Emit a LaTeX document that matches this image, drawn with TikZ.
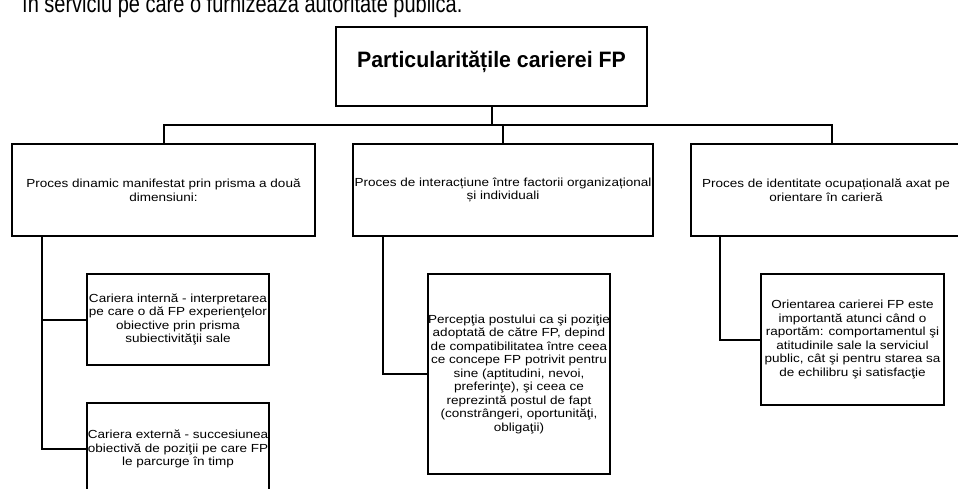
\documentclass[tikz,border=0pt]{standalone}
\usepackage{fontspec}
\setmainfont{Liberation Sans}
% wide body face, slightly narrowed heading face, tall intro face
\newfontfamily\bodyfont[FakeStretch=1.155]{Liberation Sans}
\newfontfamily\headfont[FakeStretch=0.955]{Liberation Sans}
\newfontfamily\introfont[FakeStretch=0.8]{Liberation Sans}

\begin{document}
\begin{tikzpicture}[x=1pt,y=-1pt,
  box/.style={draw, line width=2pt, inner sep=0pt, align=center,
    font=\bodyfont\fontsize{11.7}{13.5}\selectfont},
  link/.style={line width=2pt}]
\useasboundingbox (0,0) rectangle (958,489);
\clip (0,0) rectangle (958,489);

% running text line above the chart
\node[anchor=base west, inner sep=0pt, font=\introfont\fontsize{25}{28}\selectfont] (intro) at (22,13)
  {în serviciu pe care o furnizează autoritate publică.};

% root
\node[box, minimum width=311pt, minimum height=79pt, text height=16pt, text depth=13pt,
  font=\headfont\bfseries\fontsize{22.3}{24}\selectfont] (root) at (491.5,66.5)
  {Particularitățile carierei FP};

% first level
\node[box, minimum width=303pt, minimum height=92pt] (b1) at (163.5,190)
  {Proces dinamic manifestat prin prisma a două\\dimensiuni:};
\node[box, minimum width=300pt, minimum height=92pt] (b2) at (503,190)
  {Proces de interacțiune între factorii organizațional\\și individuali};
\node[box, minimum width=270pt, minimum height=92pt] (b3) at (826,190)
  {Proces de identitate ocupațională axat pe\\orientare în carieră};

% second level
\node[box, minimum width=182pt, minimum height=91pt] (c1) at (178,319.5)
  {Cariera internă - interpretarea\\pe care o dă FP experienţelor\\obiective prin prisma\\subiectivităţii sale};
\node[box, minimum width=182pt, minimum height=92pt] (c2) at (178,449)
  {Cariera externă - succesiunea\\obiectivă de poziţii pe care FP\\le parcurge în timp};
\node[box, minimum width=182pt, minimum height=200pt] (c3) at (519,374)
  {Percepţia postului ca şi poziţie\\adoptată de către FP, depind\\de compatibilitatea între ceea\\ce concepe FP potrivit pentru\\sine (aptitudini, nevoi,\\preferinţe), şi ceea ce\\reprezintă postul de fapt\\(constrângeri, oportunităţi,\\obligaţii)};
\node[box, minimum width=183pt, minimum height=131pt] (c4) at (852.5,339.5)
  {Orientarea carierei FP este\\importantă atunci când o\\raportăm: comportamentul şi\\atitudinile sale la serviciul\\public, cât şi pentru starea sa\\de echilibru şi satisfacţie};

% connectors
\coordinate (bus) at (491.5,125);
\draw[link] (root.south) -- (bus);
\draw[link] (bus) -| (b1.north);
\draw[link] (bus) -| (b2.north);
\draw[link] (bus) -| ([xshift=6pt]b3.north);

\draw[link] ([xshift=31pt]b1.south west) |- (c1.west);
\draw[link] ([xshift=31pt]b1.south west) |- (c2.west);
\draw[link] ([xshift=31pt]b2.south west) |- (c3.west);
\draw[link] ([xshift=30pt]b3.south west) |- (c4.west);
\end{tikzpicture}
\end{document}
